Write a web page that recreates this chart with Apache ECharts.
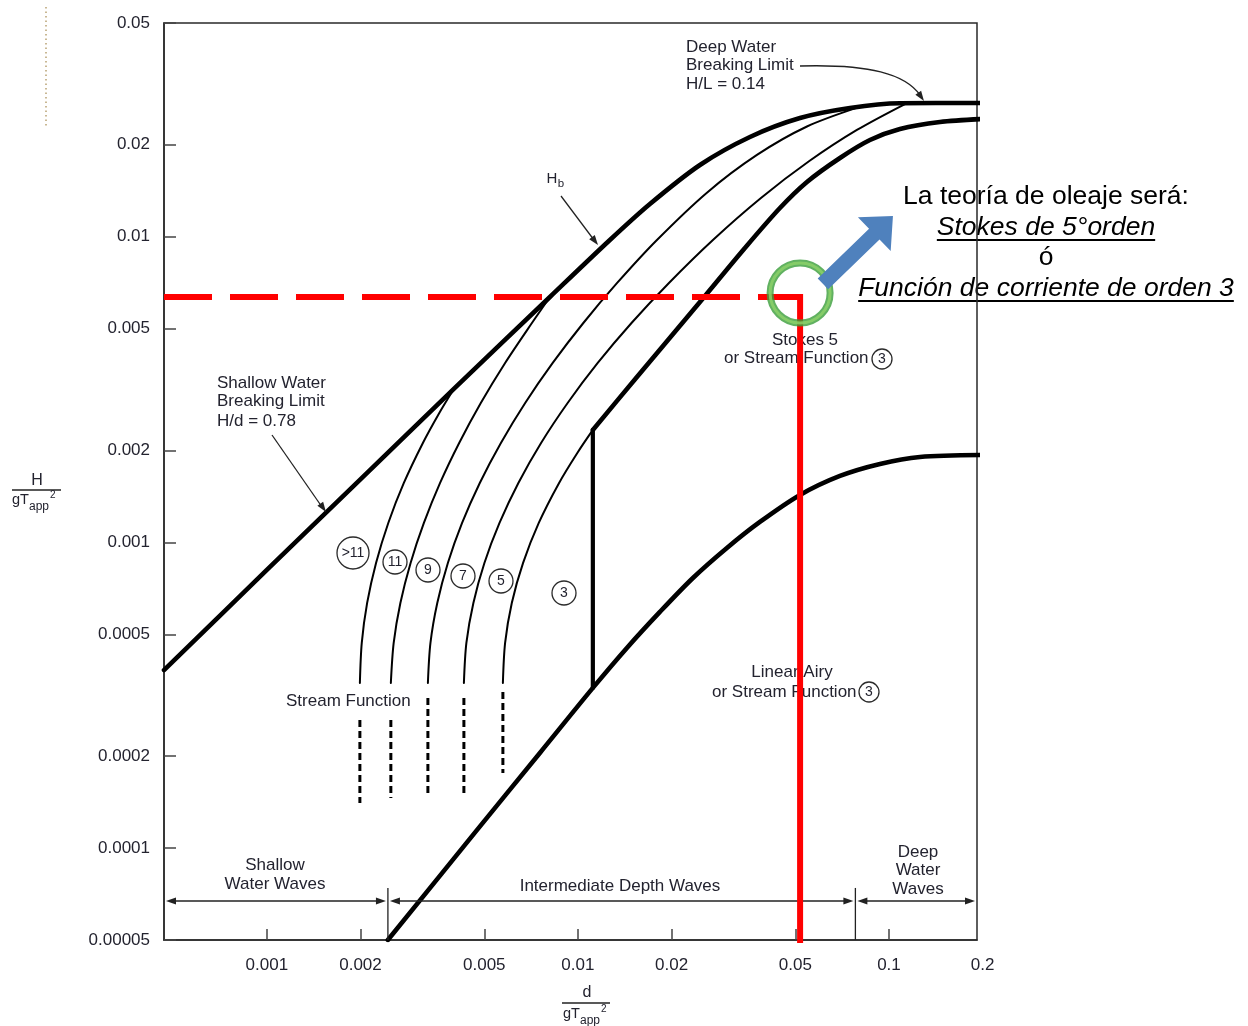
<!DOCTYPE html>
<html>
<head>
<meta charset="utf-8">
<title>Wave theory applicability</title>
<script src="https://cdn.jsdelivr.net/npm/echarts@6.0.0/dist/echarts.min.js"></script>
<style>
html,body{margin:0;padding:0;background:#ffffff;}
#chart{width:1248px;height:1026px;}
</style>
</head>
<body>
<div id="chart"></div>
<script>
// ---------- axis ranges and ticks (d/gT^2 on x, H/gT^2 on y, both logarithmic) ----------
const xRange = [0.000467, 0.1919];
const yRange = [0.00005, 0.05];
const xTickValues = [0.001, 0.002, 0.005, 0.01, 0.02, 0.05, 0.1, 0.2];
const xTickLabels = ['0.001', '0.002', '0.005', '0.01', '0.02', '0.05', '0.1', '0.2'];
const yTickValues = [0.05, 0.02, 0.01, 0.005, 0.002, 0.001, 0.0005, 0.0002, 0.0001, 0.00005];
const yTickLabels = ['0.05', '0.02', '0.01', '0.005', '0.002', '0.001', '0.0005', '0.0002', '0.0001', '0.00005'];

// ---------- breaking limit Hb ----------
const breakingD = [0.000467, 0.001, 0.001991, 0.004022, 0.008128, 0.01267, 0.01704, 0.02468, 0.03573, 0.05176, 0.07491, 0.1085, 0.2];
const breakingH = [0.000382, 0.000812, 0.0016, 0.003199, 0.006348, 0.009752, 0.01279, 0.01716, 0.02119, 0.02444, 0.02636, 0.02732, 0.02737];

// ---------- Stokes 5 / Stream function 3 lower boundary ----------
const stokesD = [0.01117, 0.01548, 0.02468, 0.03443, 0.04462, 0.0545, 0.06958, 0.08687, 0.1085, 0.1459, 0.2];
const stokesH = [0.002332, 0.003475, 0.006113, 0.009183, 0.01241, 0.0151, 0.01809, 0.02071, 0.02251, 0.02373, 0.02427];

// ---------- Linear (Airy) boundary ----------
const airyD = [0.002449, 0.004629, 0.007546, 0.01117, 0.01437, 0.01835, 0.02343, 0.03013, 0.03847, 0.05176, 0.06958, 0.09357, 0.1258, 0.2];
const airyH = [0.00005, 0.0001112, 0.0002046, 0.000334, 0.0004513, 0.000592, 0.0007645, 0.0009585, 0.001166, 0.001429, 0.001649, 0.001805, 0.001902, 0.001931];

// vertical divider between Stream function 3 and the order curves
const dividerD = 0.01117;
const dividerH = [0.000334, 0.002332];

// ---------- stream function order curves ----------
const sfOver11D = [0.001991, 0.002019, 0.002101, 0.002244, 0.002457, 0.002757, 0.003174, 0.003584, 0.003935];
const sfOver11H = [0.0003467, 0.0004687, 0.0006334, 0.0008561, 0.001157, 0.001564, 0.002114, 0.00265, 0.003104];
const sf11D = [0.002504, 0.002557, 0.002687, 0.002898, 0.003198, 0.003605, 0.004152, 0.004873, 0.005834, 0.007114, 0.008128];
const sf11H = [0.0003467, 0.0004687, 0.0006334, 0.0008561, 0.001157, 0.001564, 0.002114, 0.002857, 0.003862, 0.005218, 0.006348];
const sf9D = [0.003294, 0.003357, 0.003531, 0.003819, 0.004243, 0.004837, 0.005655, 0.006768, 0.008299, 0.01041, 0.01337, 0.01795, 0.02599, 0.03764, 0.0545, 0.07948];
const sf9H = [0.0003467, 0.0004687, 0.0006334, 0.0008561, 0.001157, 0.001564, 0.002114, 0.002857, 0.003862, 0.005218, 0.007055, 0.009752, 0.01393, 0.01851, 0.02293, 0.02648];
const sf7D = [0.0043, 0.00438, 0.004613, 0.005005, 0.005597, 0.006436, 0.007613, 0.009267, 0.01158, 0.01487, 0.01962, 0.02717, 0.03877, 0.05532, 0.07889, 0.1126];
const sf7H = [0.0003467, 0.0004687, 0.0006334, 0.0008561, 0.001157, 0.001564, 0.002114, 0.002857, 0.003862, 0.005218, 0.007055, 0.009752, 0.01338, 0.01764, 0.02234, 0.02716];
const sf5D = [0.005739, 0.005834, 0.00613, 0.006665, 0.007485, 0.0087, 0.009956, 0.01117];
const sf5H = [0.0003467, 0.0004687, 0.0006334, 0.0008561, 0.001157, 0.001564, 0.00196, 0.002332];

// dashed downward extensions of the order curves
const sfDashD = [0.001991, 0.002504, 0.003294, 0.0043, 0.005739];
const sfDashTop = [0.0002624, 0.0002624, 0.0003097, 0.0003097, 0.000324];
const sfDashBottom = [0.0001404, 0.0001458, 0.0001492, 0.0001469, 0.000176];

// ---------- depth zones ----------
const zoneBounds = [0.00245, 0.078];
const zoneArrowH = 0.0000671;
const zoneSepTopH = 0.000074;

// ---------- selected design point ----------
const selD = 0.0518;
const selH = 0.00635;
const ringH = 0.00654;
const blueArrowFrom = [0.06134, 0.007001];
const blueArrowTo = [0.103, 0.01169];

// =====================================================================
const L = Math.log10;
const FONT = '"Liberation Sans", Arial, Helvetica, sans-serif';
const INK = '#23232f';
const S = (ds, hs) => ds.map((d, i) => [L(d), L(hs[i])]);
function fmt(values, labels) {
  return function (v) {
    for (let i = 0; i < values.length; i++) {
      if (Math.abs(L(values[i]) - v) < 1e-6) return labels[i];
    }
    return '';
  };
}
function curve(ds, hs, width, extra) {
  return Object.assign({
    type: 'line', data: S(ds, hs), symbol: 'none', showSymbol: false, smooth: 0.3,
    silent: true, z: 2, animation: false,
    lineStyle: { color: '#000', width: width, cap: 'round', join: 'round' }
  }, extra || {});
}

const series = [
  curve(breakingD, breakingH, 4.6),
  curve(stokesD, stokesH, 4.6),
  curve(airyD, airyH, 4.6),
  curve([dividerD, dividerD], dividerH, 4.2, { smooth: false }),
  curve(sfOver11D, sfOver11H, 2),
  curve(sf11D, sf11H, 2),
  curve(sf9D, sf9H, 2),
  curve(sf7D, sf7H, 2),
  curve(sf5D, sf5H, 2)
];
sfDashD.forEach((d, i) => {
  series.push({
    type: 'line', symbol: 'none', silent: true, z: 2, animation: false, smooth: false,
    data: [[L(d), L(sfDashTop[i])], [L(d), L(sfDashBottom[i])]],
    lineStyle: { color: '#000', width: 3, type: [7, 4], cap: 'butt' }
  });
});
series.push({
  type: 'line', symbol: 'none', silent: true, z: 4, animation: false,
  data: [[L(xRange[0]), L(selH)], [L(selD), L(selH)]],
  lineStyle: { color: '#ff0000', width: 6, type: [48, 18], cap: 'butt' }
});
series.push({
  type: 'line', symbol: 'none', silent: true, z: 4, animation: false,
  data: [[L(selD), L(selH)], [L(selD), L(yRange[0])]],
  lineStyle: { color: '#ff0000', width: 6, cap: 'square' }
});
series.push({
  type: 'scatter', silent: true, z: 5, animation: false, symbol: 'circle', symbolSize: 60,
  data: [[L(selD), L(ringH)]],
  itemStyle: { color: 'rgba(255,255,255,0)', borderColor: '#3a9e3a', borderWidth: 7 }
});
series.push({
  type: 'scatter', silent: true, z: 5, animation: false, symbol: 'circle', symbolSize: 60,
  data: [[L(selD), L(ringH)]],
  itemStyle: { color: 'rgba(255,255,255,0)', borderColor: '#8fd36a', borderWidth: 3 }
});

const xTicksIn = xTickValues.filter(v => v <= xRange[1]).map(L);
const option = {
  animation: false,
  backgroundColor: '#ffffff',
  textStyle: { fontFamily: FONT },
  grid: {
    left: 164, right: 271, top: 23, bottom: 86, show: true,
    borderColor: '#2a2a2a', borderWidth: 1.5, backgroundColor: 'rgba(0,0,0,0)',
    containLabel: false, outerBoundsMode: 'none'
  },
  xAxis: {
    type: 'value', min: L(xRange[0]), max: L(xRange[1]),
    splitLine: { show: false },
    axisLine: { show: true, lineStyle: { color: '#2a2a2a', width: 1.5 } },
    axisTick: { show: true, inside: true, length: 11, customValues: xTicksIn, lineStyle: { color: '#444', width: 1.5 } },
    axisLabel: { show: true, customValues: xTicksIn, formatter: fmt(xTickValues, xTickLabels), margin: 17, fontSize: 17, color: INK, fontFamily: FONT }
  },
  yAxis: {
    type: 'value', min: L(yRange[0]), max: L(yRange[1]),
    splitLine: { show: false },
    axisLine: { show: true, lineStyle: { color: '#2a2a2a', width: 1.5 } },
    axisTick: { show: true, inside: true, length: 12, customValues: yTickValues.map(L), lineStyle: { color: '#444', width: 1.5 } },
    axisLabel: { show: true, customValues: yTickValues.map(L), formatter: fmt(yTickValues, yTickLabels), margin: 14, fontSize: 17, color: INK, fontFamily: FONT }
  },
  series: series
};

const chart = echarts.init(document.getElementById('chart'), null, { renderer: 'canvas' });
chart.setOption(option);

// ---------------- annotations ----------------
const px = (d, h) => chart.convertToPixel({ gridIndex: 0 }, [L(d), L(h)]);
const G = [];
function txt(x, y, s, size, align, extra, z, vAlign) {
  const st = Object.assign({
    text: s, fill: INK, font: size + 'px ' + FONT,
    align: align || 'left', verticalAlign: vAlign || 'middle',
    textAlign: align || 'left', textVerticalAlign: vAlign || 'middle'
  }, extra || {});
  return { type: 'text', x: x, y: y, z: z === undefined ? 3 : z, silent: true, style: st };
}
function seg(x1, y1, x2, y2, w, color, z) {
  return { type: 'line', z: z || 3, silent: true, shape: { x1, y1, x2, y2 }, style: { stroke: color || '#222', lineWidth: w || 1.3 } };
}
function head(tx, ty, fx, fy, len, hw, color, z) {
  const a = Math.atan2(ty - fy, tx - fx);
  const bx = tx - len * Math.cos(a), by = ty - len * Math.sin(a);
  const nx = -Math.sin(a) * hw, ny = Math.cos(a) * hw;
  return { type: 'polygon', z: z || 3, silent: true, shape: { points: [[tx, ty], [bx + nx, by + ny], [bx - nx, by - ny]] }, style: { fill: color || '#222' } };
}
function circled(x, y, r, s, fs) {
  G.push({ type: 'circle', z: 3, silent: true, shape: { cx: x, cy: y, r: r }, style: { fill: 'none', stroke: '#2b2b2b', lineWidth: 1.3 } });
  G.push(txt(x, y + 0.5, s, fs, 'center'));
}

// x tick labels that sit on the scale just past the plot edge
xTickValues.forEach((v, i) => {
  if (v > xRange[1]) {
    const p = px(v, yRange[0]);
    G.push(txt(p[0], p[1] + 17, xTickLabels[i], 17, 'center', null, 3, 'top'));
  }
});

// faint scan artefact in top-left
G.push({ type: 'line', z: 1, silent: true, shape: { x1: 46, y1: 7, x2: 46, y2: 127 }, style: { stroke: '#c9b894', lineWidth: 2, lineDash: [1.5, 3] } });

// axis titles (fractions)
G.push(txt(37, 481, 'H', 16, 'center'));
G.push(seg(12, 490, 61, 490, 1.6, '#222'));
G.push(txt(12, 500, 'gT', 14.5, 'left'));
G.push(txt(29, 507, 'app', 12, 'left'));
G.push(txt(50, 495, '2', 10, 'left'));
G.push(txt(587, 993, 'd', 16, 'center'));
G.push(seg(562, 1003, 610, 1003, 1.6, '#222'));
G.push(txt(563, 1014, 'gT', 14.5, 'left'));
G.push(txt(580, 1021, 'app', 12, 'left'));
G.push(txt(601, 1009, '2', 10, 'left'));

// Deep water breaking limit label
G.push(txt(686, 47, 'Deep Water', 17));
G.push(txt(686, 65, 'Breaking Limit', 17));
G.push(txt(686, 84, 'H/L = 0.14', 17));
G.push({ type: 'bezierCurve', z: 3, silent: true, shape: { x1: 800, y1: 66, cpx1: 870, cpy1: 64, cpx2: 905, cpy2: 74, x2: 920, y2: 95 }, style: { stroke: '#222', fill: 'none', lineWidth: 1.3 } });
G.push(head(924, 101, 905, 74, 10, 3.5));

// Hb label
G.push(txt(552, 179, 'H', 15, 'center'));
G.push(txt(561, 184, 'b', 11.5, 'center'));
G.push(seg(561, 196, 594, 240, 1.3));
G.push(head(598, 245, 561, 196, 10, 3.5));

// Shallow water breaking limit
G.push(txt(217, 383, 'Shallow Water', 17));
G.push(txt(217, 401, 'Breaking Limit', 17));
G.push(txt(217, 421, 'H/d = 0.78', 17));
G.push(seg(272, 435, 322, 507, 1.3));
G.push(head(326, 512, 272, 435, 10, 3.5));

// regions
G.push(txt(805, 340, 'Stokes 5', 17, 'center'));
G.push(txt(724, 358, 'or Stream Function', 17, 'left'));
circled(882, 359, 10, '3', 14);
G.push(txt(792, 672, 'Linear Airy', 17, 'center'));
G.push(txt(712, 692, 'or Stream Function', 17, 'left'));
circled(869, 692, 10, '3', 14);
G.push(txt(286, 701, 'Stream Function', 17, 'left'));

// order markers
circled(353, 553, 16, '>11', 14);
circled(395, 562, 12, '11', 14);
circled(428, 570, 12, '9', 14);
circled(463, 576, 12, '7', 14);
circled(501, 581, 12, '5', 14);
circled(564, 593, 12, '3', 14);

// depth zones
(function () {
  const y = px(zoneBounds[0], zoneArrowH)[1];
  const yTop = px(zoneBounds[0], zoneSepTopH)[1];
  const yBot = px(zoneBounds[0], yRange[0])[1];
  const xs = [px(xRange[0], zoneArrowH)[0], px(zoneBounds[0], zoneArrowH)[0], px(zoneBounds[1], zoneArrowH)[0], px(xRange[1], zoneArrowH)[0]];
  for (let i = 0; i < 3; i++) {
    const a = xs[i] + 2, b = xs[i + 1] - 2;
    G.push(seg(a + 4, y, b - 4, y, 1.4));
    G.push(head(a, y, a + 10, y, 10, 3.5));
    G.push(head(b, y, b - 10, y, 10, 3.5));
  }
  [xs[1], xs[2]].forEach(x => G.push(seg(x, yTop, x, yBot, 1.3)));
})();
G.push(txt(275, 865, 'Shallow', 17, 'center'));
G.push(txt(275, 884, 'Water Waves', 17, 'center'));
G.push(txt(620, 886, 'Intermediate Depth Waves', 17, 'center'));
G.push(txt(918, 852, 'Deep', 17, 'center'));
G.push(txt(918, 870, 'Water', 17, 'center'));
G.push(txt(918, 889, 'Waves', 17, 'center'));

// blue block arrow
(function () {
  const s = px(blueArrowFrom[0], blueArrowFrom[1]);
  const t = px(blueArrowTo[0], blueArrowTo[1]);
  const dx = t[0] - s[0], dy = t[1] - s[1];
  const len = Math.hypot(dx, dy);
  const ux = dx / len, uy = dy / len, nx = -uy, ny = ux;
  const hl = 26, sw = 7.5, hw = 23.5;
  const bx = t[0] - ux * hl, by = t[1] - uy * hl;
  G.push({
    type: 'polygon', z: 10, silent: true,
    shape: { points: [
      [s[0] + nx * sw, s[1] + ny * sw], [bx + nx * sw, by + ny * sw], [bx + nx * hw, by + ny * hw],
      [t[0], t[1]],
      [bx - nx * hw, by - ny * hw], [bx - nx * sw, by - ny * sw], [s[0] - nx * sw, s[1] - ny * sw]
    ] },
    style: { fill: '#4f81bd' }
  });
})();

// Spanish conclusion text
(function () {
  const ctx = document.createElement('canvas').getContext('2d');
  const fN = '26.5px ' + FONT, fI = 'italic 26.5px ' + FONT;
  const cx = 1046;
  G.push(txt(cx, 197, 'La teoría de oleaje será:', 26.5, 'center', { fill: '#000', font: fN }, -1));
  G.push(txt(cx, 228, 'Stokes de 5°orden', 26.5, 'center', { fill: '#000', font: fI }, -1));
  G.push(txt(cx, 258, 'ó', 26.5, 'center', { fill: '#000', font: fN }, -1));
  G.push(txt(cx, 289, 'Función de corriente de orden 3', 26.5, 'center', { fill: '#000', font: fI }, -1));
  ctx.font = fI;
  const w1 = ctx.measureText('Stokes de 5°orden').width;
  const w2 = ctx.measureText('Función de corriente de orden 3').width;
  G.push(seg(cx - w1 / 2, 240, cx + w1 / 2, 240, 1.8, '#000', -1));
  G.push(seg(cx - w2 / 2, 301, cx + w2 / 2, 301, 1.8, '#000', -1));
})();

chart.setOption({ graphic: G });
</script>
</body>
</html>
